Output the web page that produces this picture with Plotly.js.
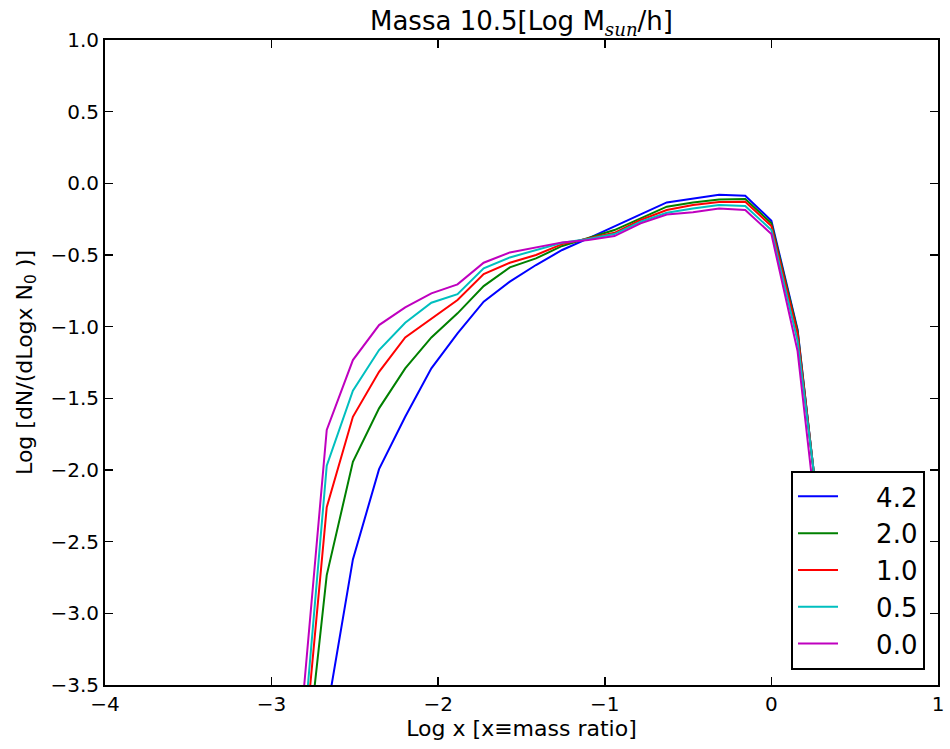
<!DOCTYPE html>
<html>
<head>
<meta charset="utf-8">
<script src="https://cdn.plot.ly/plotly-3.0.1.min.js"></script>
<style>html,body{margin:0;padding:0;background:#fff;}#chart{width:950px;height:749px;}</style>
</head>
<body>
<div id="chart"></div>
<script>
// Log x bin centres
const logX = [-2.826, -2.669, -2.512, -2.355, -2.198, -2.041, -1.884, -1.727, -1.570, -1.413,
              -1.256, -1.099, -0.942, -0.785, -0.628, -0.471, -0.314, -0.157, 0.0, 0.157, 0.314];

const seriesNames = ["4.2", "2.0", "1.0", "0.5", "0.0"];

const y42 = [null, -3.70, -2.624, -1.994, -1.629, -1.291, -1.047, -0.826, -0.686, -0.57,
             -0.465, -0.384, -0.298, -0.217, -0.133, -0.105, -0.079, -0.086, -0.261, -1.02, -2.63];
const y20 = [-4.41, -2.733, -1.943, -1.570, -1.291, -1.075, -0.907, -0.717, -0.586, -0.524,
             -0.437, -0.384, -0.326, -0.244, -0.163, -0.133, -0.112, -0.110, -0.279, -1.03, -2.62];
const y10 = [-4.23, -2.26, -1.629, -1.315, -1.075, -0.942, -0.814, -0.633, -0.554, -0.50,
             -0.424, -0.384, -0.345, -0.256, -0.186, -0.151, -0.130, -0.128, -0.298, -1.05, -2.60];
const y05 = [-4.1, -1.97, -1.447, -1.163, -0.973, -0.833, -0.773, -0.593, -0.517, -0.465,
             -0.414, -0.389, -0.354, -0.268, -0.205, -0.175, -0.151, -0.158, -0.326, -1.10, -2.57];
const y00 = [-3.79, -1.72, -1.233, -0.989, -0.865, -0.768, -0.705, -0.554, -0.482, -0.447,
             -0.412, -0.396, -0.368, -0.279, -0.217, -0.202, -0.175, -0.186, -0.354, -1.17, -2.79];

const seriesValues = [y42, y20, y10, y05, y00];
const seriesColors = ["#0000ff", "#008000", "#ff0000", "#00bfbf", "#bf00bf"];

const xTicks = [-4, -3, -2, -1, 0, 1];
const yTicks = [1.0, 0.5, 0.0, -0.5, -1.0, -1.5, -2.0, -2.5, -3.0, -3.5];

const FONT = "DejaVu Sans, sans-serif";
const PAD = "\u2007\u2007";  // figure spaces to widen legend entries

const traces = seriesValues.map((vals, i) => ({
  x: logX,
  y: vals,
  name: PAD + seriesNames[i],
  type: "scatter",
  mode: "lines",
  connectgaps: false,
  line: {color: seriesColors[i], width: 2}
}));

const axisCommon = {
  showgrid: false,
  zeroline: false,
  showline: true,
  linecolor: "#000",
  linewidth: 2,
  mirror: "allticks",
  ticks: "inside",
  ticklen: 8,
  tickwidth: 1.5,
  tickcolor: "#000",
  tickfont: {family: FONT, size: 20, color: "#000"},
  automargin: false
};

const layout = {
  width: 950,
  height: 749,
  paper_bgcolor: "#fff",
  plot_bgcolor: "#fff",
  margin: {l: 105, r: 12, t: 40, b: 64},
  font: {family: FONT, color: "#000"},
  title: {
    text: "Massa 10.5[Log M<sub><span style=\"font-family:DejaVu Serif;font-style:italic\">sun</span></sub>/h]",
    font: {family: FONT, size: 26, color: "#000"},
    x: 0.5, xref: "paper", xanchor: "center",
    y: 0.972, yref: "container", yanchor: "middle"
  },
  xaxis: Object.assign({}, axisCommon, {
    range: [-4, 1],
    tickvals: xTicks,
    ticktext: xTicks.map(v => v < 0 ? "\u2212" + Math.abs(v) : String(v)),
    title: {text: "Log x [x\u2261mass ratio]", font: {family: FONT, size: 22, color: "#000"}, standoff: 4}
  }),
  yaxis: Object.assign({}, axisCommon, {
    range: [-3.5, 1.0],
    tickvals: yTicks,
    ticktext: yTicks.map(v => (v < 0 ? "\u2212" : "") + Math.abs(v).toFixed(1)),
    title: {text: "Log [dN/(dLogx N<sub>0</sub> )]", font: {family: FONT, size: 22, color: "#000"}, standoff: 12}
  }),
  showlegend: true,
  legend: {
    x: 0.9844, xanchor: "right",
    y: 0.0233, yanchor: "bottom",
    bgcolor: "#fff",
    bordercolor: "#000",
    borderwidth: 2,
    font: {family: FONT, size: 26, color: "#000"},
    itemwidth: 40,
    traceorder: "normal"
  }
};

Plotly.newPlot("chart", traces, layout, {staticPlot: true, displayModeBar: false});
</script>
</body>
</html>
